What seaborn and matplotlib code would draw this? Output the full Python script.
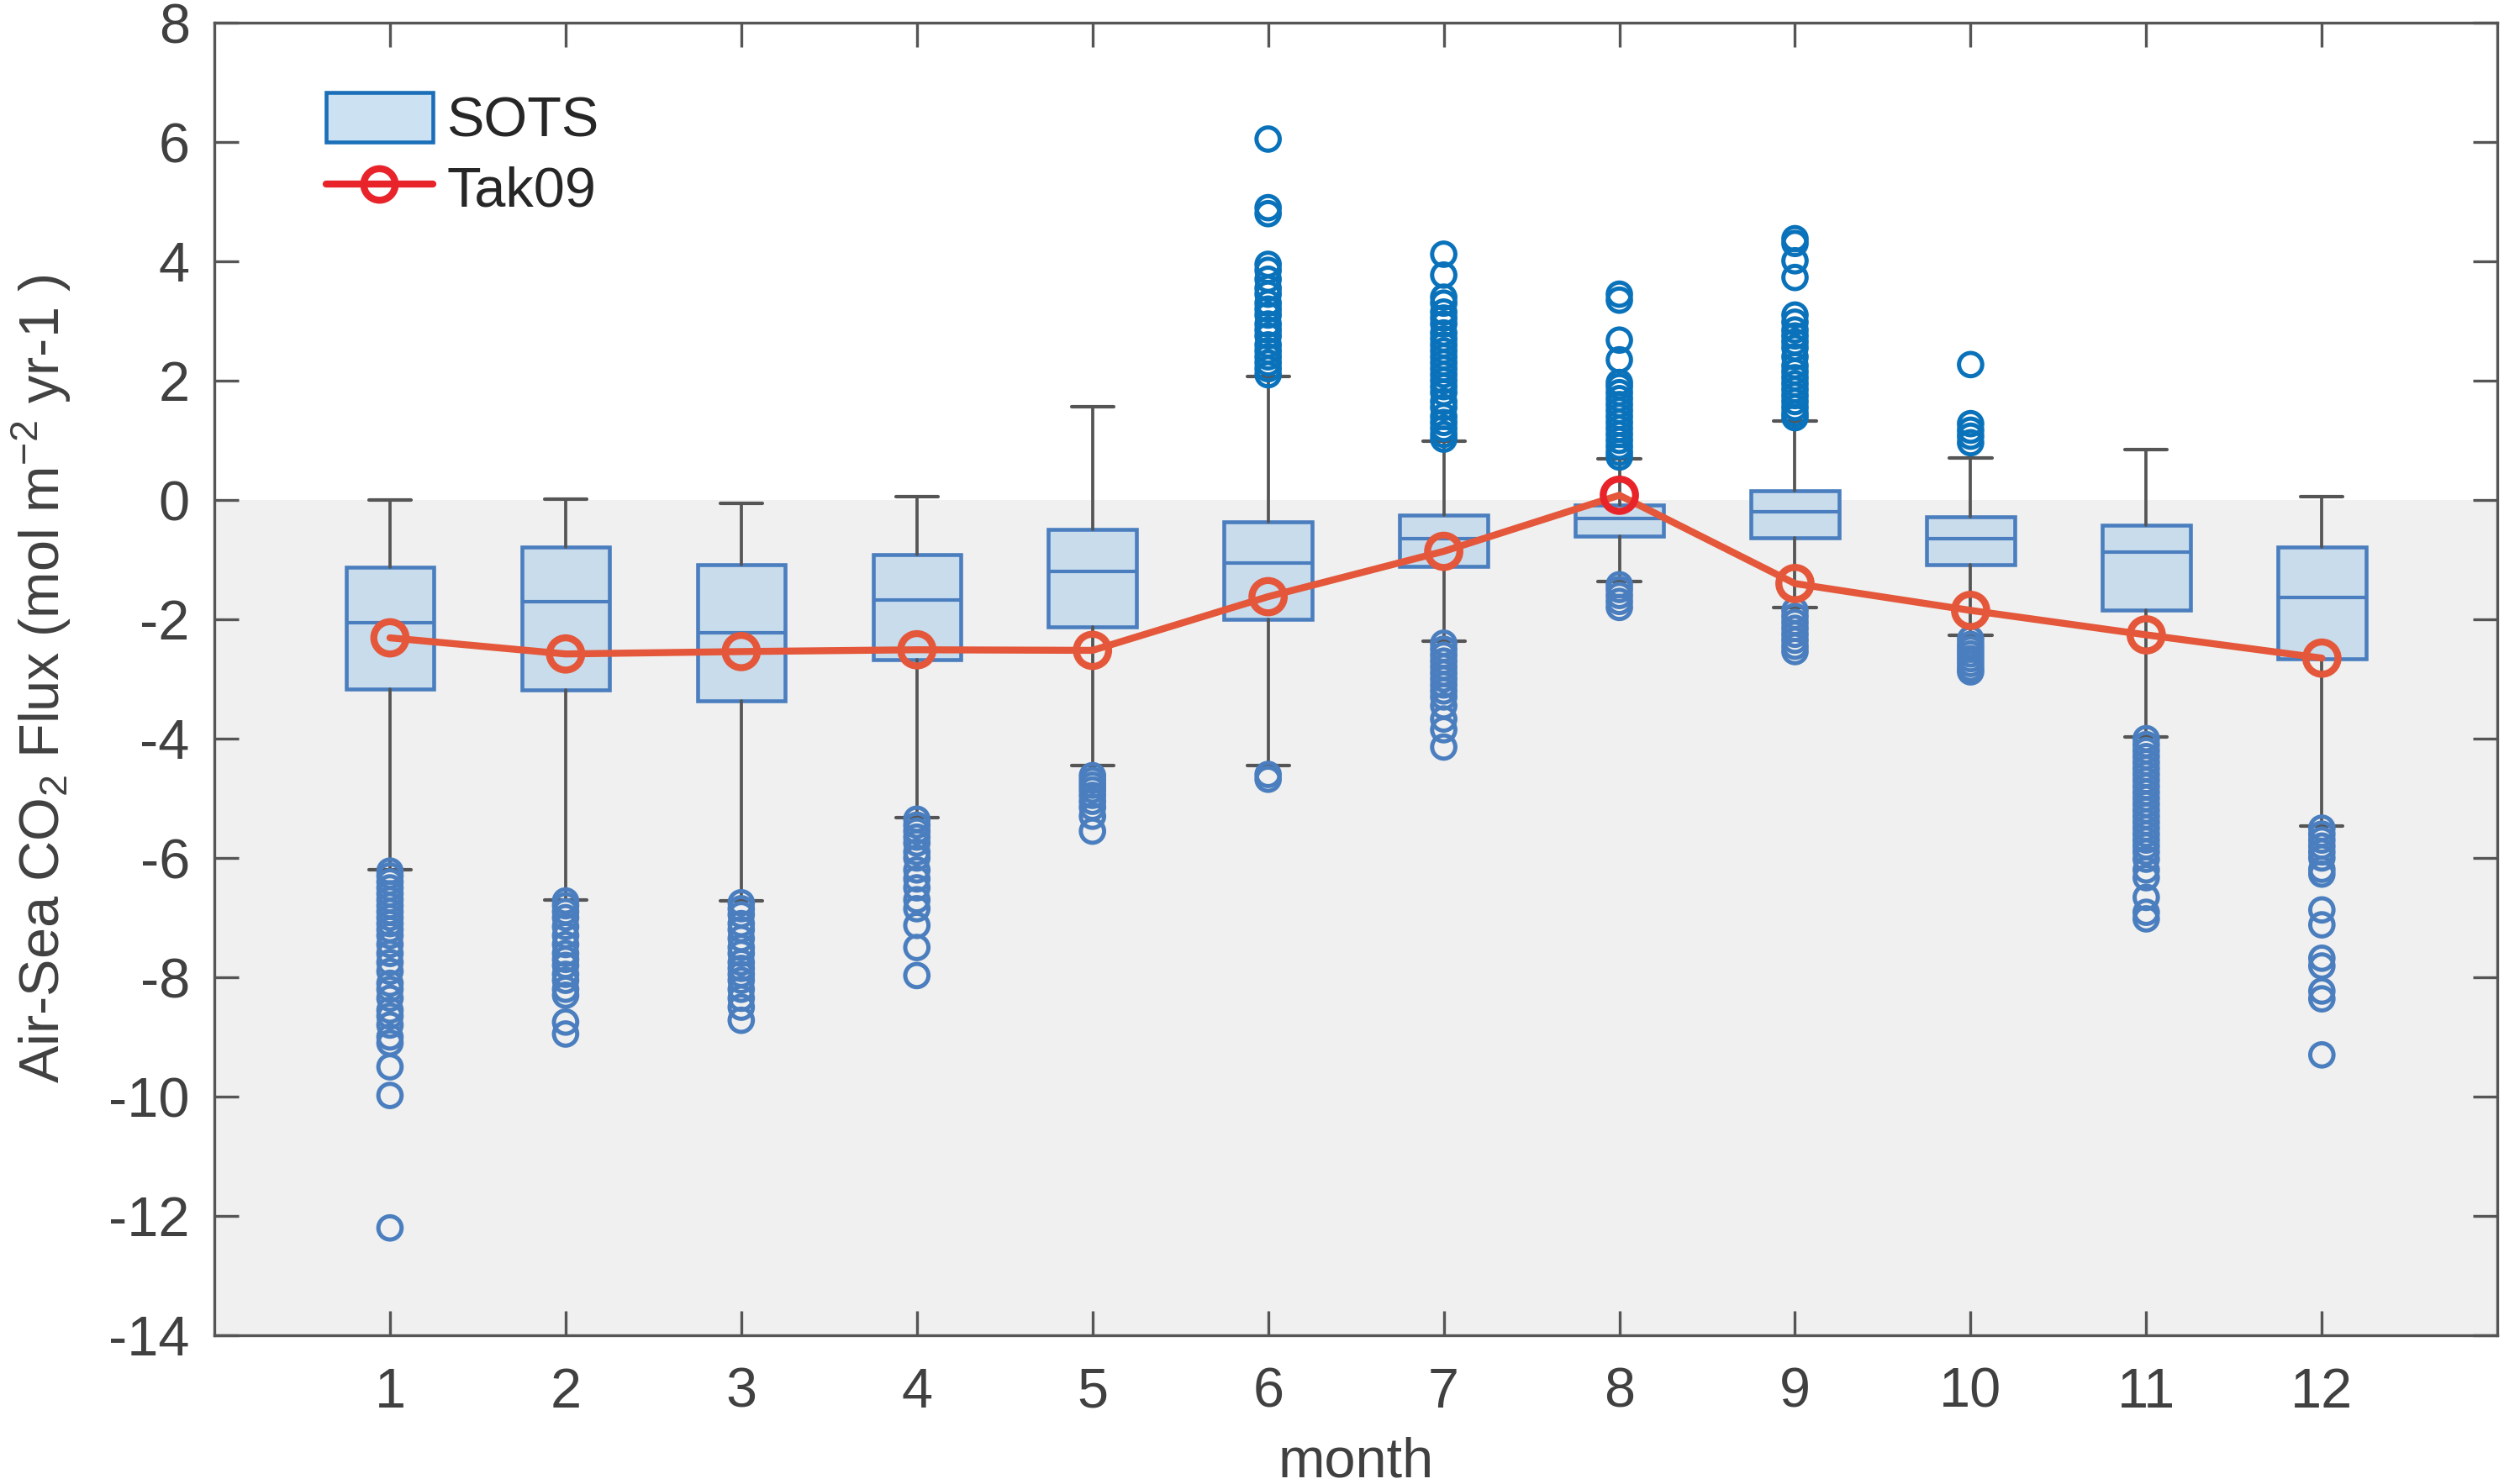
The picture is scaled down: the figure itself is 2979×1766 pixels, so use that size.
import numpy as np
import pandas as pd
import matplotlib
matplotlib.use('Agg')
import matplotlib.pyplot as plt
import seaborn as sns
from matplotlib.patches import Patch
from matplotlib.lines import Line2D

# Data =========================================================================
months = [1, 2, 3, 4, 5, 6, 7, 8, 9, 10, 11, 12]

# SOTS box statistics (mol m-2 yr-1)
whis_hi = [0.00, 0.02, -0.05, 0.05, 1.56, 2.07, 0.99, 0.69, 1.33, 0.70, 0.85, 0.06]
q3 = [-1.13, -0.79, -1.09, -0.91, -0.49, -0.36, -0.26, -0.08, 0.15, -0.28, -0.42, -0.79]
med = [-2.05, -1.70, -2.22, -1.68, -1.19, -1.06, -0.65, -0.31, -0.19, -0.65, -0.87, -1.64]
q1 = [-3.17, -3.18, -3.37, -2.67, -2.13, -2.00, -1.11, -0.60, -0.64, -1.08, -1.84, -2.66]
whis_lo = [-6.20, -6.70, -6.72, -5.32, -4.45, -4.45, -2.36, -1.36, -1.80, -2.27, -3.97, -5.46]

# SOTS outliers per month
out_01 = [-6.22, -6.3, -6.4, -6.5, -6.6, -6.7, -6.8, -6.9, -7.0, -7.1, -7.2, -7.3,
          -7.45, -7.6, -7.75, -7.9, -8.1, -8.2, -8.35, -8.55, -8.65, -8.8, -9.0,
          -9.1, -9.5, -9.98, -12.2]
out_02 = [-6.72, -6.8, -6.9, -7.0, -7.15, -7.3, -7.45, -7.6, -7.7, -7.8, -7.95,
          -8.05, -8.2, -8.3, -8.75, -8.95]
out_03 = [-6.75, -6.85, -6.95, -7.1, -7.2, -7.35, -7.5, -7.6, -7.75, -7.85, -7.95,
          -8.05, -8.2, -8.35, -8.5, -8.72]
out_04 = [-5.35, -5.45, -5.55, -5.65, -5.75, -5.9, -6.0, -6.2, -6.35, -6.5, -6.7,
          -6.85, -7.13, -7.5, -7.97]
out_05 = [-4.62, -4.7, -4.78, -4.86, -4.95, -5.05, -5.15, -5.3, -5.55]
out_06 = [2.1, 2.2, 2.3, 2.4, 2.5, 2.6, 2.75, 2.85, 2.95, 3.1, 3.2, 3.3, 3.45,
          3.55, 3.7, 3.85, 3.95, 4.8, 4.9, 6.05, -4.6, -4.68]
out_07 = [1.02, 1.1, 1.2, 1.3, 1.4, 1.55, 1.65, 1.8, 1.9, 2.0, 2.1, 2.2, 2.3, 2.4,
          2.5, 2.6, 2.7, 2.8, 2.95, 3.05, 3.15, 3.3, 3.4, 3.77, 4.12,
          -2.4, -2.5, -2.6, -2.7, -2.8, -2.9, -3.0, -3.1, -3.2, -3.3, -3.45,
          -3.67, -3.85, -4.14]
out_08 = [0.72, 0.8, 0.9, 1.0, 1.1, 1.2, 1.3, 1.4, 1.5, 1.6, 1.7, 1.8, 1.9, 1.97,
          2.35, 2.68, 3.35, 3.45, -1.42, -1.5, -1.6, -1.7, -1.8]
out_09 = [1.38, 1.45, 1.55, 1.65, 1.75, 1.85, 1.95, 2.05, 2.15, 2.25, 2.4, 2.55,
          2.65, 2.75, 2.85, 2.98, 3.1, 3.73, 4.01, 4.3, 4.38,
          -1.85, -1.95, -2.05, -2.15, -2.25, -2.35, -2.45, -2.54]
out_10 = [0.96, 1.07, 1.17, 1.28, 2.27, -2.33, -2.42, -2.5, -2.58, -2.66, -2.74,
          -2.82, -2.88]
out_11 = [-4.0, -4.1, -4.2, -4.3, -4.4, -4.5, -4.6, -4.7, -4.8, -4.9, -5.0, -5.1,
          -5.2, -5.3, -5.4, -5.5, -5.6, -5.7, -5.8, -5.9, -6.02, -6.2, -6.33,
          -6.66, -6.91, -7.02]
out_12 = [-5.5, -5.6, -5.7, -5.8, -5.9, -6.0, -6.19, -6.27, -6.87, -7.12, -7.68,
          -7.81, -8.23, -8.36, -9.3]
outliers = [out_01, out_02, out_03, out_04, out_05, out_06,
            out_07, out_08, out_09, out_10, out_11, out_12]

# Tak09 climatology
tak09 = [-2.31, -2.58, -2.54, -2.51, -2.52, -1.62, -0.86, 0.08, -1.40, -1.85,
         -2.26, -2.65]

# Colours ======================================================================
box_edge = '#4a7ebf'
box_face = '#c9dcec'
whisk_col = '#555555'
out_hi_col = '#0a72ba'
out_lo_col = '#4a7ebf'
line_col = '#e4573a'
mark_hi_col = '#e8232a'
text_col = '#404040'
fs = 16

# Style ========================================================================
sns.set_style('ticks')
plt.rcParams['font.family'] = ['Liberation Sans', 'DejaVu Sans']
plt.rcParams['mathtext.fontset'] = 'custom'
plt.rcParams['mathtext.rm'] = 'Liberation Sans'
plt.rcParams['mathtext.it'] = 'Liberation Sans:italic'
plt.rcParams['axes.unicode_minus'] = False

fig = plt.figure(figsize=(2979 / 300, 1766 / 300), dpi=300)
ax = fig.add_axes([0.0856, 0.1002, 0.9118, 0.8845])

# shaded uptake region
ax.axhspan(-14, 0, facecolor='#eff0ef', edgecolor='none', zorder=0)

# Box plots ====================================================================
stats = []
for i in range(len(months)):
    stats.append(dict(med=med[i], q1=q1[i], q3=q3[i],
                      whislo=whis_lo[i], whishi=whis_hi[i], fliers=[]))

ax.bxp(stats, positions=months, widths=0.5, capwidths=0.24,
       patch_artist=True, showfliers=False, manage_ticks=False,
       boxprops=dict(facecolor=box_face, edgecolor=box_edge, linewidth=1.1),
       medianprops=dict(color=box_edge, linewidth=1.0),
       whiskerprops=dict(color=whisk_col, linewidth=0.9),
       capprops=dict(color=whisk_col, linewidth=1.0),
       zorder=2)

# Outliers =====================================================================
out_df = pd.DataFrame({
    'month': np.repeat(months, [len(o) for o in outliers]),
    'flux': np.concatenate(outliers)})
for sub, col in [(out_df[out_df['flux'] > 0], out_hi_col),
                 (out_df[out_df['flux'] <= 0], out_lo_col)]:
    sns.scatterplot(data=sub, x='month', y='flux', ax=ax, marker='o', s=44,
                    facecolor='none', edgecolor=col, linewidth=1.2,
                    legend=False, zorder=3)

# Tak09 line ===================================================================
tak_df = pd.DataFrame({'month': months, 'flux': tak09})
sns.lineplot(data=tak_df, x='month', y='flux', ax=ax, color=line_col,
             linewidth=2.0, zorder=4, legend=False)
for sub, col in [(tak_df[tak_df['flux'] > 0], mark_hi_col),
                 (tak_df[tak_df['flux'] <= 0], line_col)]:
    sns.scatterplot(data=sub, x='month', y='flux', ax=ax, marker='o', s=85,
                    facecolor='none', edgecolor=col, linewidth=2.0,
                    legend=False, zorder=5)

# Axes =========================================================================
ax.set_xlim(0, 13)
ax.set_ylim(-14, 8)
ax.set_xticks(months)
ax.set_yticks(np.arange(-14, 9, 2))
ax.tick_params(direction='in', top=True, right=True, length=7, width=0.8,
               color='#555555', labelcolor=text_col, labelsize=fs)
ax.tick_params(axis='x', pad=9)
ax.tick_params(axis='y', pad=7)
for sp in ax.spines.values():
    sp.set_visible(True)
    sp.set_color('#555555')
    sp.set_linewidth(0.8)
    sp.set_zorder(6)

ax.set_xlabel('month', fontsize=fs, color=text_col)
ax.set_ylabel('Air-Sea CO$_2$ Flux (mol m$^{-2}$ yr-1 )', fontsize=fs,
              color=text_col)
ax.xaxis.set_label_coords(0.5, -0.077)
ax.yaxis.set_label_coords(-0.062, 0.5)

# Legend =======================================================================
handles = [Patch(facecolor='#cce2f3', edgecolor='#1a6fb8', linewidth=1.1),
           Line2D([0], [0], color=mark_hi_col, linewidth=2.0, marker='o',
                  markersize=9, markerfacecolor='none',
                  markeredgecolor=mark_hi_col, markeredgewidth=2.0)]
ax.legend(handles, ['SOTS', 'Tak09'], loc='upper left',
          bbox_to_anchor=(0.049, 0.947), frameon=False, fontsize=fs,
          borderpad=0, borderaxespad=0, handlelength=1.9, handleheight=1.0,
          handletextpad=0.25, labelspacing=0.25)

fig.savefig('out.png', dpi=300)
